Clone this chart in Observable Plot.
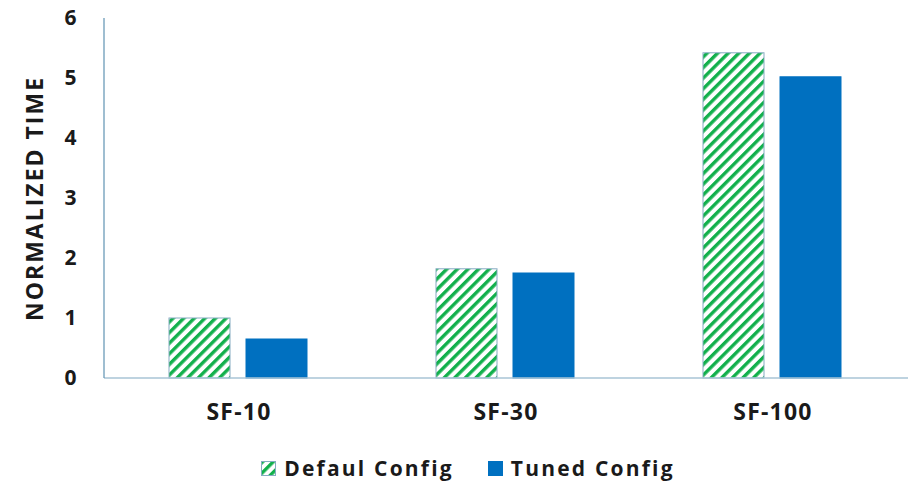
<!DOCTYPE html>
<html>
<head>
<meta charset="utf-8">
<script src="https://cdn.jsdelivr.net/npm/d3@7"></script>
<script src="https://cdn.jsdelivr.net/npm/@observablehq/plot@0.6"></script>
<style>
  body { margin: 0; background: #fff; font-family: "Open Sans", sans-serif; }
  #wrap { width: 916px; }
  .legend { display: flex; justify-content: center; align-items: center; font-weight: 700; font-size: 21px; letter-spacing: 2.2px; color: #1a1a1a; margin-top: 14px; padding-left: 20px; }
  .item { display: flex; align-items: center; margin: 0 17px; }
  .item svg { margin-right: 8px; }
  g[aria-label="fx-axis tick label"] text { letter-spacing: 1.2px; }
  g[aria-label="y-axis label"] text { font-size: 23px; letter-spacing: 2px; }
</style>
</head>
<body>
<svg width="0" height="0" style="position:absolute">
  <defs>
    <pattern id="hatch" patternUnits="userSpaceOnUse" width="7.5" height="7.5" patternTransform="rotate(45)">
      <rect width="7.5" height="7.5" fill="#ffffff"></rect>
      <rect x="0" y="0" width="3.4" height="7.5" fill="#12b04c"></rect>
    </pattern>
  </defs>
</svg>
<div id="wrap"></div>
<script>
const categories = ["SF-10", "SF-30", "SF-100"];
const seriesNames = ["Defaul Config", "Tuned Config"];
const defaultValues = [1.0, 1.82, 5.42];
const tunedValues = [0.65, 1.75, 5.02];
const yTicks = [0, 1, 2, 3, 4, 5, 6];

const data = [];
categories.forEach((c, i) => {
  data.push({cat: c, series: seriesNames[0], value: defaultValues[i]});
  data.push({cat: c, series: seriesNames[1], value: tunedValues[i]});
});

const fills = {"Defaul Config": "url(#hatch)", "Tuned Config": "#0070c0"};
const strokes = {"Defaul Config": "#86abc2", "Tuned Config": "#0070c0"};

const chart = Plot.plot({
  width: 916,
  height: 440,
  marginTop: 18,
  marginBottom: 62,
  marginLeft: 104,
  marginRight: 9,
  style: {fontFamily: "Open Sans, sans-serif", fontWeight: 700, color: "#1a1a1a", background: "#fff"},
  fx: {domain: categories, padding: 0, label: null, axis: null},
  x: {domain: seriesNames, paddingInner: 0.205, paddingOuter: 0.82, axis: null},
  y: {domain: [0, 6], axis: null},
  marks: [
    Plot.barY(data, {
      fx: "cat", x: "series", y: "value",
      fill: d => fills[d.series],
      stroke: d => strokes[d.series],
      strokeWidth: 1
    }),
    Plot.axisFx({anchor: "bottom", tickSize: 0, tickPadding: 25, fontSize: 23, label: null}),
    Plot.axisY({
      ticks: yTicks, tickFormat: d => String(d), tickSize: 0, tickPadding: 29, fontSize: 21,
      anchor: "left", label: "NORMALIZED TIME", labelAnchor: "center", labelArrow: "none", labelOffset: 79
    })
  ]
});

const svg = d3.select(chart);
const fx = chart.scale("fx");
const y = chart.scale("y");
const x0 = fx.range[0], x1 = fx.range[1];
svg.append("line").attr("x1", x0).attr("x2", x1 + 1).attr("y1", y.apply(0)).attr("y2", y.apply(0))
  .attr("stroke", "#a9c4d6").attr("stroke-width", 1.5);
svg.append("line").attr("x1", x0).attr("x2", x0).attr("y1", y.apply(6)).attr("y2", y.apply(0))
  .attr("stroke", "#5f93b3").attr("stroke-width", 1.2);

document.getElementById("wrap").appendChild(chart);

const legend = d3.select("#wrap").append("div").attr("class", "legend");
seriesNames.forEach(s => {
  const it = legend.append("div").attr("class", "item");
  const sw = it.append("svg").attr("width", 15).attr("height", 15);
  sw.append("rect").attr("x", 0.5).attr("y", 0.5).attr("width", 14).attr("height", 14)
    .attr("fill", fills[s]).attr("stroke", strokes[s]);
  it.append("span").text(s);
});
</script>
</body>
</html>
